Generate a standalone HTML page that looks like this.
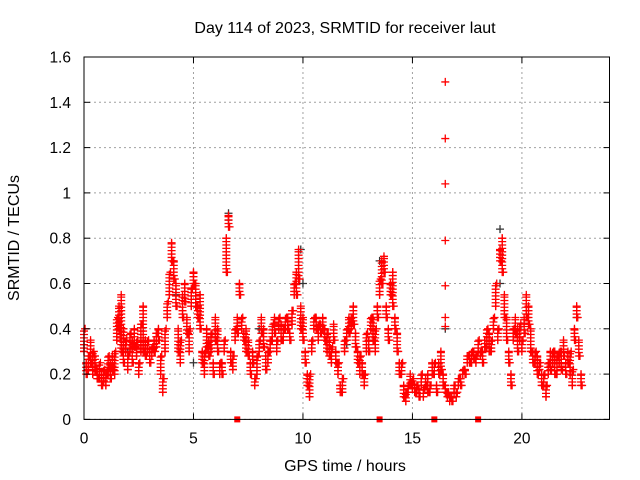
<!DOCTYPE html>
<html><head><meta charset="utf-8"><style>
html,body{margin:0;padding:0;background:#fff}
svg{display:block;font-family:"Liberation Sans",sans-serif}
</style></head><body>
<svg id="c" width="640" height="480">
<rect width="640" height="480" fill="#fff"/>
<text x="345" y="33" text-anchor="middle" font-size="16">Day 114 of 2023, SRMTID for receiver laut</text>
<text x="345" y="471" text-anchor="middle" font-size="16">GPS time / hours</text>
<text transform="translate(19,238) rotate(-90)" text-anchor="middle" font-size="16">SRMTID / TECUs</text>
<g id="grid"></g><g id="marks"></g><g id="axes"></g>
</svg>
<script>
const xTicks=[0,5,10,15,20];
const yTicks=[0,0.2,0.4,0.6,0.8,1,1.2,1.4,1.6];
const yTickLabels=["0","0.2","0.4","0.6","0.8","1","1.2","1.4","1.6"];
const redStart=0, redStep=0.1;
const redValues=[0.3,0.25,0.22,0.35,0.2,0.28,0.22,0.18,0.2,0.17,
0.15,0.2,0.25,0.28,0.2,0.35,0.5,0.55,0.4,0.3,
0.22,0.3,0.35,0.4,0.28,0.2,0.3,0.5,0.35,0.3,
0.3,0.28,0.35,0.32,0.4,0.2,0.12,0.3,0.45,0.55,
0.78,0.7,0.6,0.4,0.25,0.55,0.6,0.45,0.3,0.5,
0.65,0.6,0.5,0.55,0.3,0.2,0.4,0.35,0.3,0.25,
0.45,0.4,0.2,0.25,0.3,0.8,0.9,0.3,0.22,0.35,
0.45,0.6,0.4,0.38,0.4,0.35,0.25,0.3,0.15,0.2,
0.3,0.45,0.4,0.28,0.25,0.3,0.35,0.45,0.3,0.4,
0.42,0.35,0.4,0.45,0.38,0.42,0.55,0.65,0.75,0.5,
0.45,0.3,0.2,0.1,0.3,0.4,0.45,0.35,0.42,0.45,
0.4,0.3,0.35,0.25,0.42,0.3,0.2,0.15,0.12,0.3,
0.35,0.45,0.4,0.5,0.38,0.3,0.2,0.25,0.15,0.3,
0.35,0.4,0.45,0.3,0.5,0.55,0.7,0.72,0.5,0.4,
0.6,0.65,0.45,0.38,0.25,0.2,0.15,0.08,0.12,0.2,
0.14,0.15,0.12,0.13,0.15,0.1,0.18,0.2,0.12,0.25,
0.2,0.15,0.25,0.3,0.2,0.15,0.1,0.08,0.1,0.12,
0.1,0.15,0.18,0.2,0.22,0.25,0.28,0.25,0.3,0.25,
0.3,0.28,0.3,0.35,0.32,0.38,0.3,0.4,0.5,0.35,
0.75,0.8,0.55,0.45,0.3,0.2,0.35,0.45,0.4,0.35,
0.3,0.45,0.55,0.5,0.4,0.3,0.25,0.28,0.22,0.2,
0.15,0.1,0.2,0.3,0.25,0.3,0.2,0.25,0.3,0.35,
0.25,0.3,0.2,0.15,0.4,0.5,0.35,0.2];
const altValues=[0.4,0.2,0.28,0.25,0.3,0.22,0.18,0.25,0.15,0.22,
0.2,0.28,0.18,0.22,0.3,0.45,0.4,0.3,0.25,0.35,
0.28,0.38,0.25,0.32,0.35,0.25,0.42,0.3,0.28,0.35,
0.25,0.32,0.3,0.38,0.35,0.28,0.18,0.4,0.52,0.65,
0.7,0.62,0.5,0.3,0.35,0.45,0.52,0.38,0.4,0.58,
0.6,0.5,0.45,0.4,0.25,0.3,0.32,0.28,0.38,0.2,
0.35,0.3,0.25,0.2,0.35,0.65,0.85,0.25,0.28,0.4,
0.38,0.55,0.45,0.35,0.3,0.28,0.2,0.25,0.18,0.28,
0.35,0.38,0.32,0.22,0.3,0.35,0.42,0.38,0.35,0.45,
0.35,0.4,0.45,0.4,0.35,0.48,0.6,0.55,0.62,0.4,
0.35,0.25,0.15,0.2,0.35,0.45,0.4,0.42,0.38,0.4,
0.35,0.38,0.28,0.32,0.35,0.25,0.25,0.12,0.18,0.35,
0.4,0.38,0.45,0.42,0.32,0.25,0.28,0.2,0.2,0.38,
0.3,0.45,0.35,0.4,0.45,0.62,0.6,0.65,0.45,0.35,
0.55,0.5,0.4,0.3,0.2,0.25,0.1,0.12,0.15,0.16,
0.18,0.12,0.15,0.1,0.2,0.14,0.15,0.12,0.15,0.2,
0.25,0.12,0.2,0.22,0.15,0.12,0.12,0.1,0.08,0.15,
0.12,0.18,0.15,0.22,0.2,0.28,0.25,0.3,0.27,0.28,
0.35,0.3,0.25,0.32,0.4,0.3,0.35,0.45,0.6,0.4,
0.7,0.65,0.45,0.35,0.25,0.15,0.4,0.38,0.3,0.42,
0.35,0.38,0.45,0.42,0.3,0.25,0.3,0.2,0.25,0.15,
0.2,0.15,0.25,0.22,0.3,0.2,0.28,0.3,0.22,0.28,
0.2,0.25,0.3,0.22,0.35,0.45,0.28,0.15];
const spikeX=[16.5,16.5,16.5,16.5,16.5,16.5,16.5];
const spikeY=[1.49,1.24,1.04,0.79,0.59,0.45,0.41];
const darkX=[0,6.6,6.6,9.9,16.5,19,19,4.2,10,22.5,5,13.5,8,12,20.5,2];
const darkY=[0.33,0.91,0.88,0.75,0.4,0.84,0.6,0.55,0.6,0.45,0.25,0.7,0.4,0.33,0.3,0.3];
const flagX=[7,13.5,16,18];
const flagY=[0,0,0,0];

const L=84,R=609.5,T=57,B=419.4,XMAX=24,YMAX=1.6;
const sx=v=>L+(v/XMAX)*(R-L);
const sy=v=>B-(v/YMAX)*(B-T);
const NS="http://www.w3.org/2000/svg";
function mk(tag,attrs,parent){const e=document.createElementNS(NS,tag);for(const k in attrs)e.setAttribute(k,attrs[k]);parent.appendChild(e);return e;}
const grid=document.getElementById('grid'),marks=document.getElementById('marks'),axes=document.getElementById('axes');
xTicks.forEach(t=>{
  const g=mk('line',{x1:sx(t),x2:sx(t),y1:T,y2:B,stroke:'#a0a0a0','stroke-dasharray':'2,3'},grid);
  
  
  mk('line',{x1:sx(t),x2:sx(t),y1:B,y2:B-6,stroke:'#000'},axes);
  mk('line',{x1:sx(t),x2:sx(t),y1:T,y2:T+6,stroke:'#000'},axes);
  const tx=mk('text',{x:sx(t),y:B+24,'text-anchor':'middle','font-size':15.5},axes);
  tx.textContent=String(t);
  
  
});
yTicks.forEach((t,i)=>{
  const g=mk('line',{x1:L,x2:R,y1:sy(t),y2:sy(t),stroke:'#a0a0a0','stroke-dasharray':'2,3'},grid);
  
  
  mk('line',{x1:L,x2:L+6,y1:sy(t),y2:sy(t),stroke:'#000'},axes);
  mk('line',{x1:R,x2:R-6,y1:sy(t),y2:sy(t),stroke:'#000'},axes);
  const tx=mk('text',{x:L-13,y:sy(t)+5.5,'text-anchor':'end','font-size':15.5},axes);
  tx.textContent=yTickLabels[i];
  
  
});
const fr=mk('rect',{x:L,y:T,width:R-L,height:B-T,fill:'none',stroke:'#000','stroke-width':1},axes);


function cross(x,y,col,name){
  const p=mk('path',{d:`M${sx(x)-4},${sy(y)}h8M${sx(x)},${sy(y)-4}v8`,stroke:col,'stroke-width':1.3,fill:'none'},marks);
  
  
}
darkX.forEach((x,i)=>cross(x,darkY[i],'#333','dark-point'));
// stack crosses between the two readings of each time bin (observed spread)
redValues.forEach((v,i)=>{
  const a=altValues[i];
  const lo=Math.min(v,a),hi=Math.max(v,a);
  const x=redStart+i*redStep;
  for(let y=lo;y<=hi+1e-9;y+=0.015){cross(x,y,'#f00','red-point');}
  cross(x+0.05,a,'#f00','red-point');
  cross(x,v,'#f00','red-point');
});
spikeX.forEach((x,i)=>cross(x,spikeY[i],'#f00','spike-point'));
flagX.forEach((x,i)=>{
  const r=mk('rect',{x:sx(x)-3,y:sy(flagY[i])-3,width:6,height:6,fill:'#f00'},marks);
  
  
});
</script>
</body></html>
